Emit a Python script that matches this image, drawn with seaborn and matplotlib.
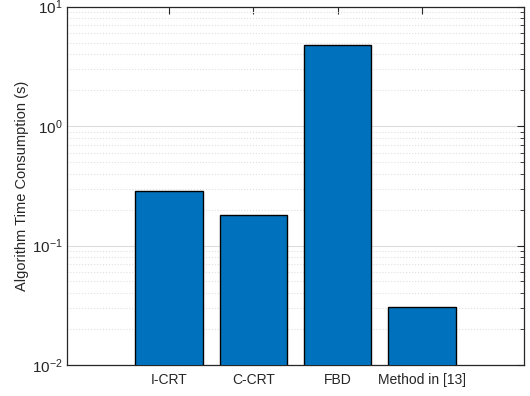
import matplotlib
matplotlib.use("Agg")
import matplotlib.pyplot as plt
import pandas as pd
import seaborn as sns

# Datos
metodos = ["I-CRT", "C-CRT", "FBD", "Method in [13]"]
tiempos = [0.284, 0.180, 4.76, 0.0308]

df = pd.DataFrame({"metodo": metodos, "tiempo": tiempos})

sns.set_style("white")
plt.rcParams['font.family'] = ['Liberation Sans', 'DejaVu Sans']
plt.rcParams['font.size'] = 10
plt.rcParams['mathtext.fontset'] = 'custom'
plt.rcParams['mathtext.rm'] = 'Liberation Sans'
plt.rcParams['text.color'] = '#262626'
plt.rcParams['axes.labelcolor'] = '#262626'
plt.rcParams['xtick.color'] = '#262626'
plt.rcParams['ytick.color'] = '#262626'

fig = plt.figure(figsize=(5.3, 3.96), dpi=100)
ax = fig.add_axes([0.1264, 0.0783, 0.8623, 0.905])

ax.set_yscale('log')
sns.barplot(data=df, x="metodo", y="tiempo", order=metodos, color='#0072BD',
            saturation=1, edgecolor='black', linewidth=1.0, width=0.8, ax=ax, zorder=3)

ax.set_ylim(1e-2, 1e1)
ax.set_xlim(-1.21, 4.21)
ax.set_xlabel('')
ax.set_ylabel('Algorithm Time Consumption (s)', fontsize=10.5, labelpad=2)

# Rejilla estilo MATLAB
ax.grid(True, which='major', axis='y', color='#dcdcdc', linestyle='-', linewidth=0.8, zorder=0)
ax.grid(True, which='minor', axis='y', color='#e0e0e0', linestyle=':', linewidth=0.8, zorder=0)
ax.set_axisbelow(True)

for s in ax.spines.values():
    s.set_color('#262626')
    s.set_linewidth(0.9)
    s.set_visible(True)

ax.tick_params(axis='both', which='both', direction='in', top=True, right=True)
ax.tick_params(axis='x', which='major', length=5, labelsize=10, pad=6)
ax.tick_params(axis='y', which='major', length=5, labelsize=11, pad=3)
ax.tick_params(axis='y', which='minor', length=3)
ax.tick_params(axis='x', which='minor', bottom=False, top=False)

fig.savefig('out.png', dpi=100)
